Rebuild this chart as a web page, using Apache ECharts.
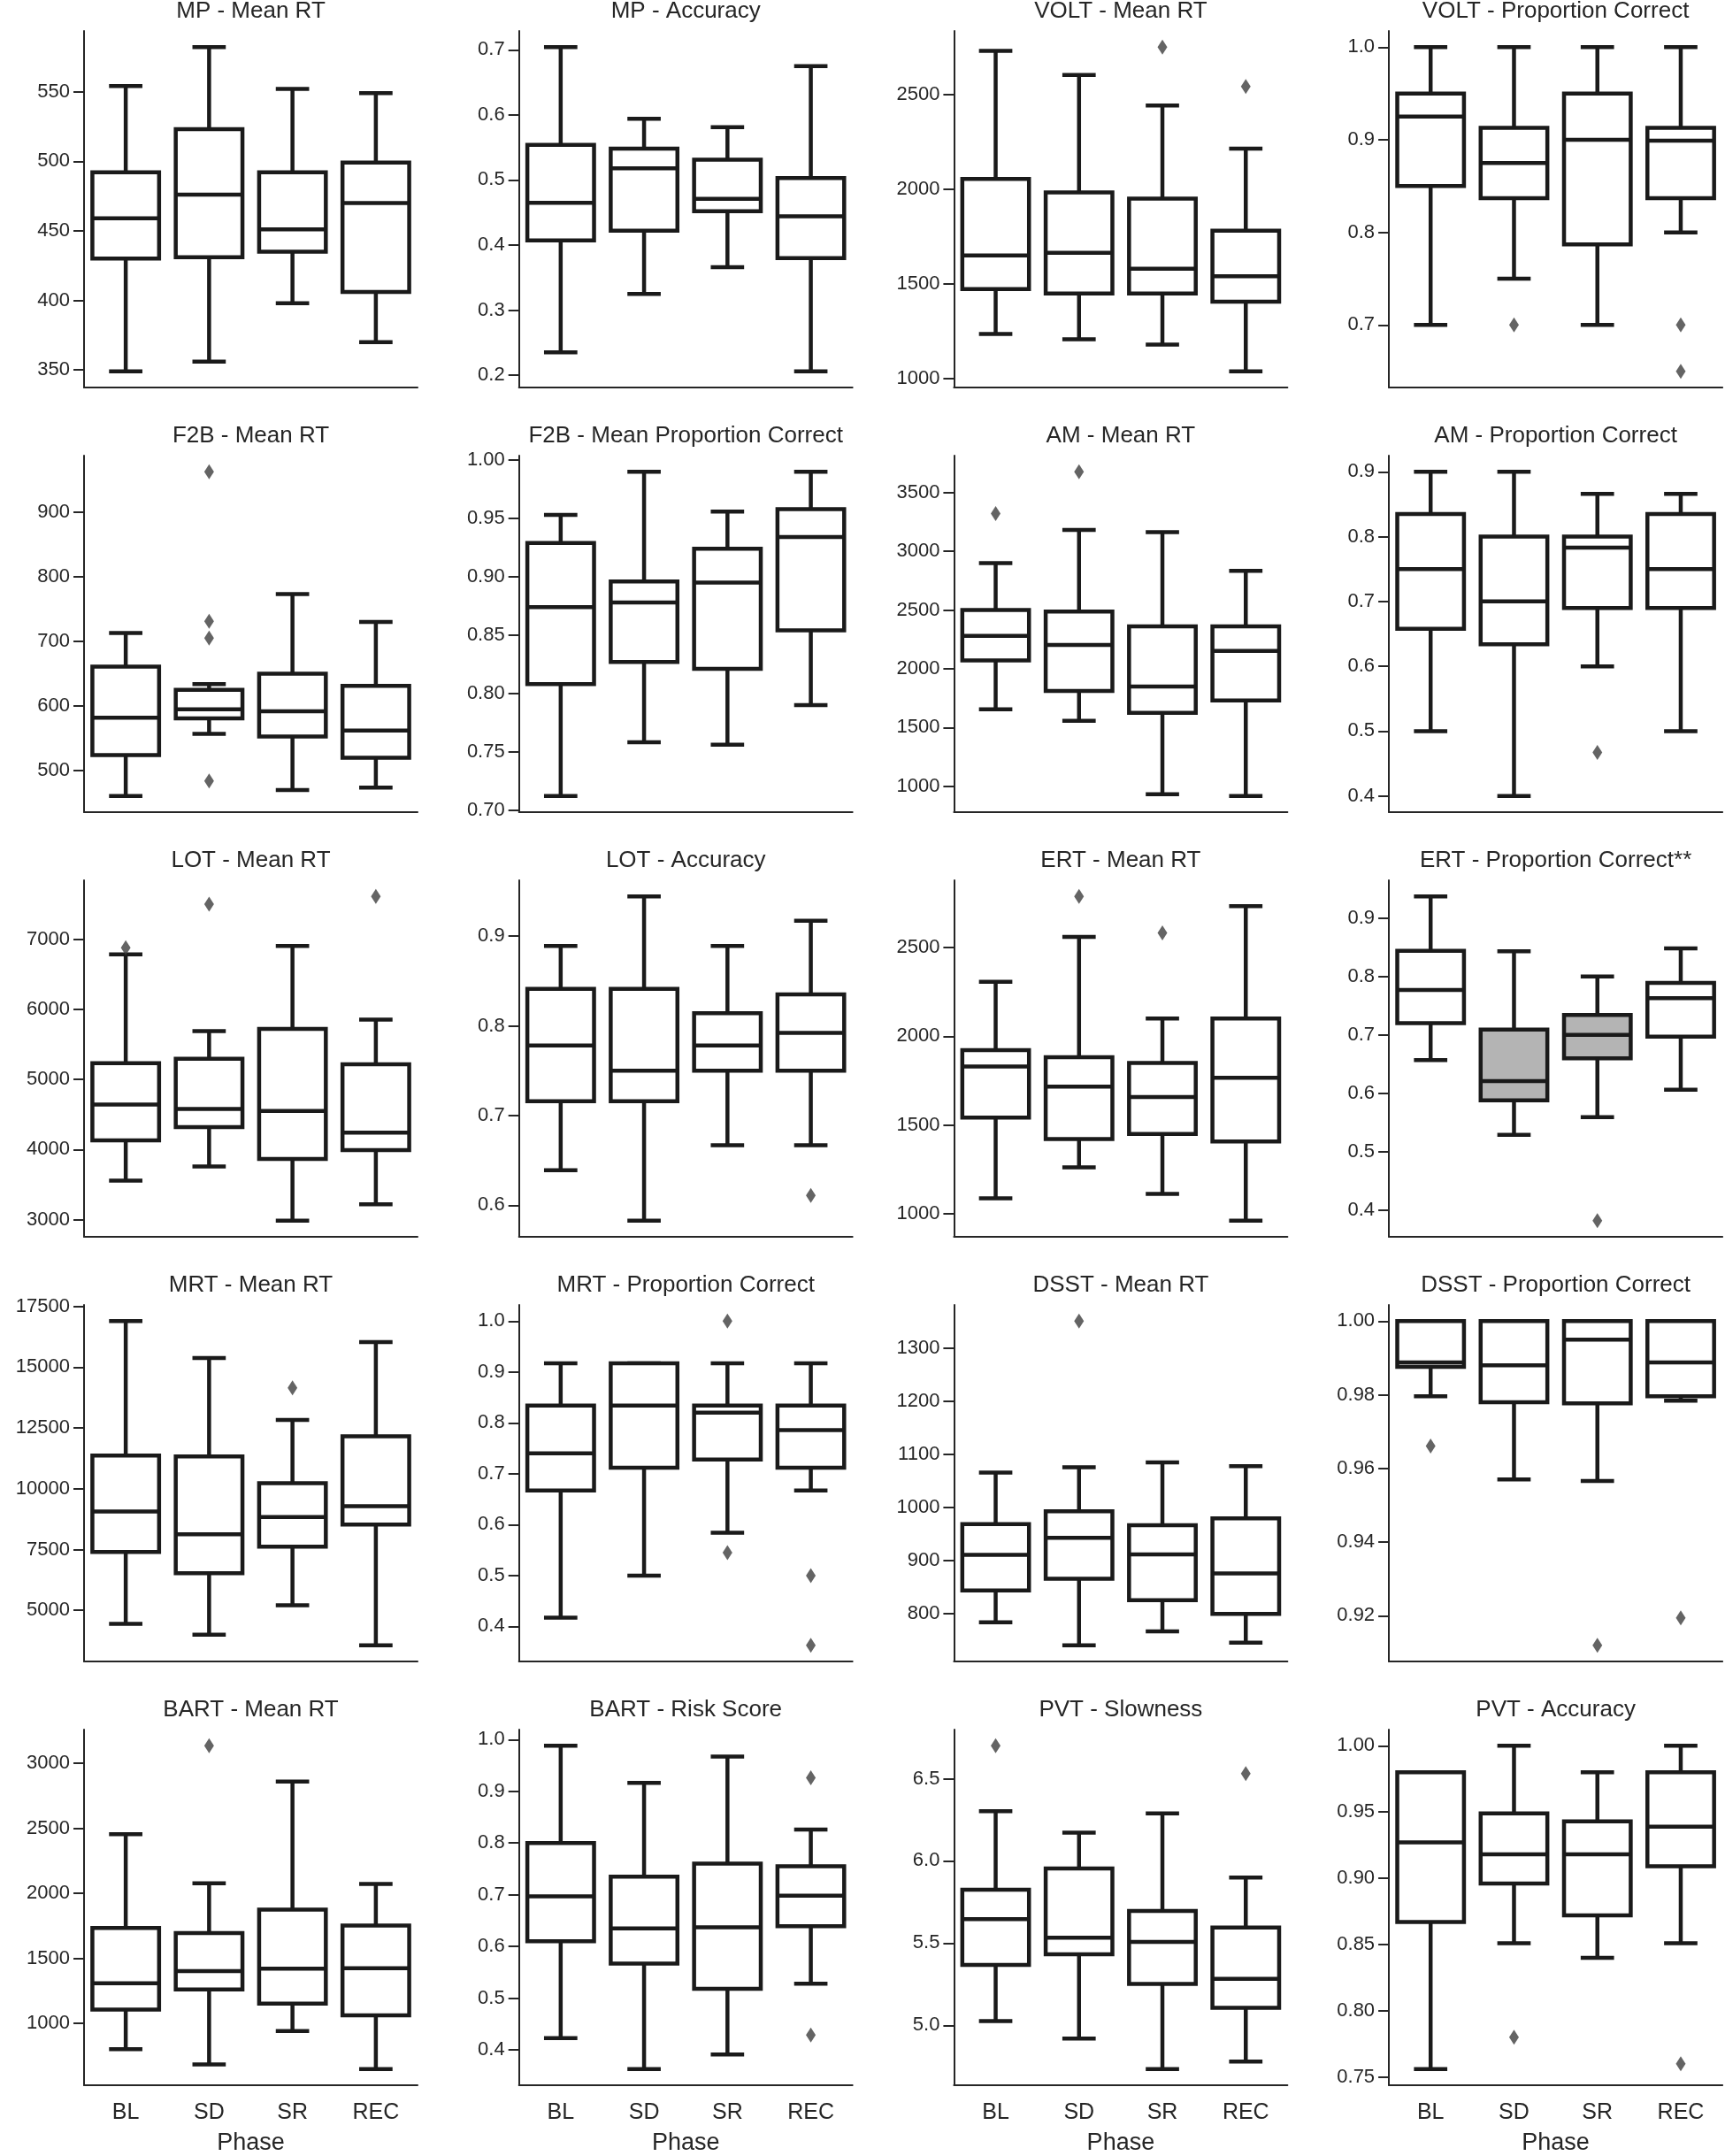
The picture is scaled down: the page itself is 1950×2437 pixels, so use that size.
<!DOCTYPE html>
<html>
<head>
<meta charset="utf-8">
<title>Test scores by phase</title>
<script src="https://cdn.jsdelivr.net/npm/echarts@6.0.0/dist/echarts.min.js"></script>
<style>
  html, body { margin: 0; padding: 0; background: #fff; }
  #main { width: 1950px; height: 2437px; }
</style>
</head>
<body>
<div id="main"></div>
<script>
// categories on every x axis
var phases = ['BL', 'SD', 'SR', 'REC'];

// each box: [low whisker, Q1, median, Q3, high whisker] for BL, SD, SR, REC
// outliers: [phase index, value]
var mpRt = [[349, 430, 459, 492, 554], [356, 431, 476, 523, 582], [398, 435, 451, 492, 552], [370, 406, 470, 499, 549]];
var mpRtOut = [];
var mpAcc = [[0.235, 0.407, 0.465, 0.554, 0.704], [0.325, 0.422, 0.518, 0.548, 0.594], [0.366, 0.452, 0.471, 0.531, 0.581], [0.206, 0.380, 0.444, 0.503, 0.675]];
var mpAccOut = [];
var voltRt = [[1236, 1473, 1650, 2055, 2731], [1208, 1450, 1664, 1983, 2603], [1180, 1450, 1580, 1950, 2442], [1039, 1406, 1541, 1781, 2214]];
var voltRtOut = [[2, 2750], [3, 2542]];
var voltPc = [[0.70, 0.850, 0.925, 0.950, 1.0], [0.75, 0.837, 0.875, 0.913, 1.0], [0.70, 0.787, 0.900, 0.950, 1.0], [0.80, 0.837, 0.899, 0.913, 1.0]];
var voltPcOut = [[1, 0.70], [3, 0.70], [3, 0.65]];

var f2bRt = [[461, 524, 582, 661, 713], [557, 581, 595, 625, 634], [470, 553, 592, 650, 773], [474, 520, 562, 631, 730]];
var f2bRtOut = [[1, 962], [1, 731], [1, 705], [1, 484]];
var f2bPc = [[0.712, 0.808, 0.874, 0.929, 0.953], [0.758, 0.827, 0.878, 0.896, 0.990], [0.756, 0.821, 0.895, 0.924, 0.956], [0.790, 0.854, 0.934, 0.958, 0.990]];
var f2bPcOut = [];
var amRt = [[1654, 2071, 2280, 2500, 2899], [1556, 1811, 2202, 2487, 3182], [932, 1624, 1849, 2361, 3164], [917, 1730, 2152, 2361, 2833]];
var amRtOut = [[0, 3321], [1, 3677]];
var amPc = [[0.5, 0.658, 0.75, 0.835, 0.9], [0.4, 0.634, 0.70, 0.80, 0.9], [0.6, 0.690, 0.783, 0.80, 0.866], [0.5, 0.690, 0.75, 0.835, 0.866]];
var amPcOut = [[2, 0.467]];

var lotRt = [[3556, 4131, 4642, 5232, 6781], [3759, 4320, 4579, 5295, 5688], [2987, 3865, 4549, 5718, 6903], [3219, 3992, 4242, 5215, 5852]];
var lotRtOut = [[0, 6878], [1, 7497], [3, 7607]];
var lotAcc = [[0.639, 0.716, 0.778, 0.841, 0.889], [0.583, 0.716, 0.750, 0.841, 0.944], [0.667, 0.750, 0.778, 0.814, 0.889], [0.667, 0.750, 0.792, 0.835, 0.917]];
var lotAccOut = [[3, 0.611]];
var ertRt = [[1087, 1542, 1830, 1922, 2307], [1262, 1422, 1717, 1883, 2560], [1113, 1450, 1658, 1850, 2100], [962, 1408, 1767, 2100, 2733]];
var ertRtOut = [[1, 2788], [2, 2583]];
var ertPc = [[0.657, 0.720, 0.777, 0.844, 0.937], [0.529, 0.588, 0.621, 0.709, 0.843], [0.559, 0.660, 0.700, 0.734, 0.800], [0.606, 0.697, 0.763, 0.789, 0.848]];
var ertPcOut = [[2, 0.382]];

var mrtRt = [[4441, 7403, 9064, 11362, 16892], [4003, 6527, 8127, 11325, 15377], [5207, 7622, 8833, 10231, 12828], [3565, 8529, 9283, 12160, 16034]];
var mrtRtOut = [[2, 14149]];
var mrtPc = [[0.417, 0.667, 0.740, 0.834, 0.917], [0.500, 0.712, 0.834, 0.917, 0.917], [0.584, 0.728, 0.820, 0.834, 0.917], [0.667, 0.712, 0.786, 0.834, 0.917]];
var mrtPcOut = [[2, 1.0], [2, 0.545], [3, 0.5], [3, 0.363]];
var dsstRt = [[784, 844, 911, 969, 1066], [741, 866, 943, 993, 1076], [767, 826, 912, 967, 1085], [746, 800, 876, 980, 1078]];
var dsstRtOut = [[1, 1351]];
var dsstPc = [[0.9796, 0.9876, 0.9888, 1.0, 1.0], [0.9570, 0.9780, 0.9880, 1.0, 1.0], [0.9566, 0.9777, 0.9950, 1.0, 1.0], [0.9784, 0.9796, 0.9888, 1.0, 1.0]];
var dsstPcOut = [[0, 0.9661], [2, 0.912], [3, 0.9194]];

var bartRt = [[802, 1106, 1309, 1734, 2453], [685, 1262, 1402, 1694, 2077], [942, 1152, 1421, 1875, 2858], [650, 1063, 1425, 1752, 2072]];
var bartRtOut = [[1, 3133]];
var bartRisk = [[0.423, 0.610, 0.697, 0.800, 0.988], [0.363, 0.567, 0.635, 0.735, 0.916], [0.391, 0.518, 0.637, 0.760, 0.967], [0.528, 0.639, 0.698, 0.755, 0.826]];
var bartRiskOut = [[3, 0.926], [3, 0.429]];
var pvtSlow = [[5.026, 5.367, 5.646, 5.824, 6.302], [4.919, 5.432, 5.533, 5.954, 6.171], [4.734, 5.252, 5.507, 5.696, 6.288], [4.780, 5.107, 5.283, 5.594, 5.898]];
var pvtSlowOut = [[0, 6.70], [3, 6.53]];
var pvtAcc = [[0.756, 0.867, 0.927, 0.980, 0.980], [0.851, 0.896, 0.918, 0.949, 1.0], [0.840, 0.872, 0.918, 0.943, 0.980], [0.851, 0.909, 0.939, 0.980, 1.0]];
var pvtAccOut = [[1, 0.780], [3, 0.760]];

// y tick labels per panel
var ticksRt1 = ['350', '400', '450', '500', '550'];
var ticksAcc1 = ['0.2', '0.3', '0.4', '0.5', '0.6', '0.7'];
var ticksRt2 = ['1000', '1500', '2000', '2500'];
var ticksPc2 = ['0.7', '0.8', '0.9', '1.0'];
var ticksF2bRt = ['500', '600', '700', '800', '900'];
var ticksF2bPc = ['0.70', '0.75', '0.80', '0.85', '0.90', '0.95', '1.00'];
var ticksAmRt = ['1000', '1500', '2000', '2500', '3000', '3500'];
var ticksAmPc = ['0.4', '0.5', '0.6', '0.7', '0.8', '0.9'];
var ticksLotRt = ['3000', '4000', '5000', '6000', '7000'];
var ticksLotAcc = ['0.6', '0.7', '0.8', '0.9'];
var ticksErtRt = ['1000', '1500', '2000', '2500'];
var ticksErtPc = ['0.4', '0.5', '0.6', '0.7', '0.8', '0.9'];
var ticksMrtRt = ['5000', '7500', '10000', '12500', '15000', '17500'];
var ticksMrtPc = ['0.4', '0.5', '0.6', '0.7', '0.8', '0.9', '1.0'];
var ticksDsstRt = ['800', '900', '1000', '1100', '1200', '1300'];
var ticksDsstPc = ['0.92', '0.94', '0.96', '0.98', '1.00'];
var ticksBartRt = ['1000', '1500', '2000', '2500', '3000'];
var ticksBartRisk = ['0.4', '0.5', '0.6', '0.7', '0.8', '0.9', '1.0'];
var ticksPvtSlow = ['5.0', '5.5', '6.0', '6.5'];
var ticksPvtAcc = ['0.75', '0.80', '0.85', '0.90', '0.95', '1.00'];

var panels = [
  { title: 'MP - Mean RT', stats: mpRt, out: mpRtOut, ticks: ticksRt1 },
  { title: 'MP - Accuracy', stats: mpAcc, out: mpAccOut, ticks: ticksAcc1 },
  { title: 'VOLT - Mean RT', stats: voltRt, out: voltRtOut, ticks: ticksRt2 },
  { title: 'VOLT - Proportion Correct', stats: voltPc, out: voltPcOut, ticks: ticksPc2 },
  { title: 'F2B - Mean RT', stats: f2bRt, out: f2bRtOut, ticks: ticksF2bRt },
  { title: 'F2B - Mean Proportion Correct', stats: f2bPc, out: f2bPcOut, ticks: ticksF2bPc },
  { title: 'AM - Mean RT', stats: amRt, out: amRtOut, ticks: ticksAmRt },
  { title: 'AM - Proportion Correct', stats: amPc, out: amPcOut, ticks: ticksAmPc },
  { title: 'LOT - Mean RT', stats: lotRt, out: lotRtOut, ticks: ticksLotRt },
  { title: 'LOT - Accuracy', stats: lotAcc, out: lotAccOut, ticks: ticksLotAcc },
  { title: 'ERT - Mean RT', stats: ertRt, out: ertRtOut, ticks: ticksErtRt },
  { title: 'ERT - Proportion Correct**', stats: ertPc, out: ertPcOut, ticks: ticksErtPc },
  { title: 'MRT - Mean RT', stats: mrtRt, out: mrtRtOut, ticks: ticksMrtRt },
  { title: 'MRT - Proportion Correct', stats: mrtPc, out: mrtPcOut, ticks: ticksMrtPc },
  { title: 'DSST - Mean RT', stats: dsstRt, out: dsstRtOut, ticks: ticksDsstRt },
  { title: 'DSST - Proportion Correct', stats: dsstPc, out: dsstPcOut, ticks: ticksDsstPc },
  { title: 'BART - Mean RT', stats: bartRt, out: bartRtOut, ticks: ticksBartRt },
  { title: 'BART - Risk Score', stats: bartRisk, out: bartRiskOut, ticks: ticksBartRisk },
  { title: 'PVT - Slowness', stats: pvtSlow, out: pvtSlowOut, ticks: ticksPvtSlow },
  { title: 'PVT - Accuracy', stats: pvtAcc, out: pvtAccOut, ticks: ticksPvtAcc }
];

// grey boxes (significant phases in ERT - Proportion Correct)
var shaded = { 11: [1, 2] };

(function () {
  var myChart = echarts.init(document.getElementById('main'), null, { renderer: 'canvas' });
  var font = '"Liberation Sans", Arial, sans-serif';
  var ink = '#262626';
  var boxLine = '#1a1a1a';
  var lw = 4.5;
  // plot area layout
  var gx0 = 95, gdx = 491.7, gw = 377;
  var gy0 = 35, gdy = 480, gh = 403;

  // same padding as matplotlib autoscale: 5% of the data range
  function extent(stats, out) {
    var vals = [];
    stats.forEach(function (s) { vals.push(s[0], s[4]); });
    out.forEach(function (o) { vals.push(o[1]); });
    var lo = Math.min.apply(null, vals);
    var hi = Math.max.apply(null, vals);
    var pad = (hi - lo) * 0.05;
    return [lo - pad, hi + pad];
  }

  // draws one seaborn-style box: whiskers, half-width caps, box and median
  function makeRender(grey) {
    return function (params, api) {
      var k = api.value(0);
      var lo = api.coord([k, api.value(1)]);
      var q1 = api.coord([k, api.value(2)]);
      var md = api.coord([k, api.value(3)]);
      var q3 = api.coord([k, api.value(4)]);
      var hi = api.coord([k, api.value(5)]);
      var band = api.size([1, 0])[0];
      var bw = band * 0.8;
      var cw = bw / 2;
      var x = lo[0];
      var st = { stroke: boxLine, lineWidth: lw };
      var fill = grey.indexOf(k) > -1 ? '#b4b4b4' : '#ffffff';
      return {
        type: 'group',
        children: [
          { type: 'line', shape: { x1: x, y1: hi[1], x2: x, y2: q3[1] }, style: st },
          { type: 'line', shape: { x1: x, y1: q1[1], x2: x, y2: lo[1] }, style: st },
          { type: 'line', shape: { x1: x - cw / 2, y1: hi[1], x2: x + cw / 2, y2: hi[1] }, style: st },
          { type: 'line', shape: { x1: x - cw / 2, y1: lo[1], x2: x + cw / 2, y2: lo[1] }, style: st },
          {
            type: 'rect',
            shape: { x: x - bw / 2, y: q3[1], width: bw, height: q1[1] - q3[1] },
            style: { fill: fill, stroke: boxLine, lineWidth: lw }
          },
          { type: 'line', shape: { x1: x - bw / 2, y1: md[1], x2: x + bw / 2, y2: md[1] }, style: st }
        ]
      };
    };
  }

  var grids = [], xAxes = [], yAxes = [], titles = [], series = [];

  panels.forEach(function (p, i) {
    var r = Math.floor(i / 4), c = i % 4;
    var left = gx0 + c * gdx;
    var top = gy0 + r * gdy;
    var bottomRow = r === 4;
    var ext = extent(p.stats, p.out);
    var tickVals = p.ticks.map(function (t) { return parseFloat(t); });
    var dec = (p.ticks[0].split('.')[1] || '').length;

    grids.push({ left: left, top: top, width: gw, height: gh });

    titles.push({
      text: p.title,
      left: left + gw / 2,
      top: top - 35,
      textAlign: 'center',
      padding: 0,
      textStyle: { fontFamily: font, fontSize: 26, fontWeight: 'normal', color: ink }
    });

    xAxes.push({
      type: 'category',
      gridIndex: i,
      data: phases,
      boundaryGap: true,
      axisLine: { lineStyle: { color: ink, width: 2 } },
      axisTick: { alignWithLabel: true, length: 12, lineStyle: { color: ink, width: 2 } },
      axisLabel: { show: bottomRow, fontFamily: font, fontSize: 25, color: ink, margin: 19 },
      name: bottomRow ? 'Phase' : '',
      nameLocation: 'middle',
      nameGap: 52,
      nameTextStyle: { fontFamily: font, fontSize: 27, color: ink },
      splitLine: { show: false }
    });

    yAxes.push({
      type: 'value',
      gridIndex: i,
      min: ext[0],
      max: ext[1],
      axisLine: { show: true, lineStyle: { color: ink, width: 2 } },
      axisTick: { show: true, customValues: tickVals, length: 12, lineStyle: { color: ink, width: 2 } },
      axisLabel: {
        customValues: tickVals,
        fontFamily: font,
        fontSize: 22,
        color: ink,
        margin: 16,
        formatter: function (v) { return v.toFixed(dec); }
      },
      splitLine: { show: false }
    });

    series.push({
      type: 'custom',
      xAxisIndex: i,
      yAxisIndex: i,
      renderItem: makeRender(shaded[i] || []),
      encode: { x: 0, y: [1, 2, 3, 4, 5] },
      data: p.stats.map(function (s, k) { return [k].concat(s); }),
      z: 2
    });

    series.push({
      type: 'scatter',
      xAxisIndex: i,
      yAxisIndex: i,
      symbol: 'diamond',
      symbolSize: [11, 17],
      itemStyle: { color: '#3d3d3d' },
      data: p.out,
      z: 3
    });
  });

  var option = {
    backgroundColor: '#ffffff',
    animation: false,
    title: titles,
    grid: grids,
    xAxis: xAxes,
    yAxis: yAxes,
    series: series
  };
  myChart.setOption(option);
  window.addEventListener('resize', function () {
    myChart.resize();
  });
})();
</script>
</body>
</html>
